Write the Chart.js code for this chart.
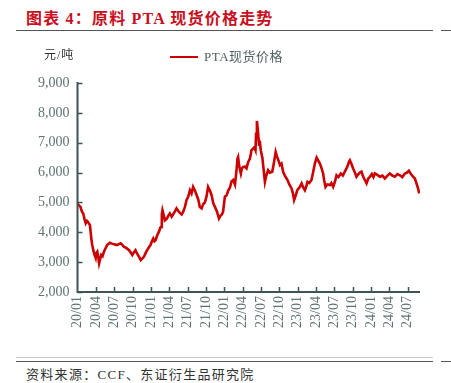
<!DOCTYPE html>
<html>
<head>
<meta charset="utf-8">
<script src="https://cdn.jsdelivr.net/npm/chart.js@4.4.1/dist/chart.umd.min.js"></script>
<style>
  body { margin: 0; background: #fff; }
  #wrap { position: relative; width: 451px; height: 383px; overflow: hidden; font-family: "Liberation Serif", "Noto Sans CJK SC", serif; }
  #title { position: absolute; left: 26px; top: 5px; font-size: 16px; font-weight: bold; color: #c8101e; white-space: nowrap; letter-spacing: 1.2px; }
  .rule { position: absolute; height: 0; }
  #unit { position: absolute; left: 44px; top: 45px; font-size: 12px; color: #333; letter-spacing: 1px; }
  #source { position: absolute; left: 26px; top: 364px; font-size: 13px; color: #333; white-space: nowrap; letter-spacing: 1.3px; }
  #legend { position: absolute; left: 170px; top: 46px; font-size: 13px; color: #4f5f5f; white-space: nowrap; letter-spacing: 0.5px; }
  #legend span.swatch { display: inline-block; width: 28px; border-top: 2.5px solid #cc0000; vertical-align: middle; margin-right: 6px; position: relative; top: -1px; }
  #chart { position: absolute; left: 0; top: 0; }
</style>
</head>
<body>
<div id="wrap">
  <div id="title">图表 4：原料 PTA 现货价格走势</div>
  <div class="rule" style="left:16px; top:30px; width:417px; border-top:1.5px solid #555;"></div>
  <div class="rule" style="left:441px; top:30px; width:10px; border-top:1.5px solid #555;"></div>
  <canvas id="chart" width="451" height="345"></canvas>
  <div id="unit">元/吨</div>
  <div id="legend"><span class="swatch"></span>PTA现货价格</div>
  <div class="rule" style="left:16px; top:357px; width:417px; border-top:1px solid #ccc;"></div>
  <div class="rule" style="left:16px; top:361px; width:417px; border-top:1.5px solid #555;"></div>
  <div class="rule" style="left:441px; top:361px; width:10px; border-top:1.5px solid #555;"></div>
  <div id="source">资料来源：CCF、东证衍生品研究院</div>
</div>
<script>
// PTA spot price, yuan/ton
var dates = [
  '2020-01-02','2020-01-08','2020-01-16','2020-01-23','2020-01-30','2020-02-05','2020-02-11','2020-02-17','2020-02-21','2020-02-26',
  '2020-03-02','2020-03-09','2020-03-13','2020-03-19','2020-03-25','2020-03-31','2020-04-03','2020-04-08','2020-04-13','2020-04-17',
  '2020-04-22','2020-04-27','2020-05-04','2020-05-11','2020-05-18','2020-05-27','2020-06-10','2020-06-20','2020-06-30','2020-07-16',
  '2020-07-24','2020-08-03','2020-08-11','2020-08-19','2020-09-01','2020-09-14','2020-09-22','2020-09-30','2020-10-08','2020-10-16',
  '2020-10-23','2020-10-28','2020-11-05','2020-11-11','2020-11-18','2020-11-27','2020-12-05','2020-12-13','2020-12-22','2020-12-30',
  '2021-01-06','2021-01-13','2021-01-19','2021-01-25','2021-02-02','2021-02-10','2021-02-16','2021-02-20','2021-02-23','2021-02-26',
  '2021-03-05','2021-03-10','2021-03-19','2021-03-27','2021-04-04','2021-04-13','2021-04-20','2021-04-29','2021-05-07','2021-05-15',
  '2021-05-24','2021-06-02','2021-06-10','2021-06-18','2021-06-26','2021-07-04','2021-07-13','2021-07-21','2021-07-29','2021-08-07',
  '2021-08-16','2021-08-24','2021-09-01','2021-09-10','2021-09-18','2021-09-26','2021-10-04','2021-10-12','2021-10-21','2021-10-30',
  '2021-11-07','2021-11-15','2021-11-25','2021-12-05','2021-12-12','2021-12-20','2021-12-26','2022-01-04','2022-01-13','2022-01-21',
  '2022-01-30','2022-02-06','2022-02-14','2022-02-22','2022-03-01','2022-03-06','2022-03-09','2022-03-15','2022-03-23','2022-03-28',
  '2022-04-04','2022-04-12','2022-04-20','2022-04-28','2022-05-07','2022-05-15','2022-05-23','2022-05-29','2022-06-04','2022-06-07',
  '2022-06-11','2022-06-16','2022-06-21','2022-06-26','2022-06-30','2022-07-08','2022-07-16','2022-07-21','2022-07-28','2022-08-06',
  '2022-08-15','2022-08-27','2022-09-04','2022-09-13','2022-09-19','2022-09-27','2022-10-04','2022-10-12','2022-10-20','2022-10-29',
  '2022-11-11','2022-11-20','2022-12-01','2022-12-08','2022-12-14','2022-12-23','2022-12-30','2023-01-10','2023-01-21','2023-01-29',
  '2023-02-06','2023-02-13','2023-02-18','2023-02-26','2023-03-09','2023-03-17','2023-03-26','2023-04-04','2023-04-12','2023-04-20',
  '2023-04-28','2023-05-06','2023-05-11','2023-05-18','2023-05-27','2023-06-09','2023-06-16','2023-06-25','2023-07-04','2023-07-12',
  '2023-07-21','2023-08-03','2023-08-13','2023-08-27','2023-09-05','2023-09-12','2023-09-17','2023-09-24','2023-10-03','2023-10-12',
  '2023-10-20','2023-10-30','2023-11-06','2023-11-14','2023-11-23','2023-12-01','2023-12-09','2023-12-18','2023-12-26','2024-01-05',
  '2024-01-13','2024-01-20','2024-02-02','2024-02-14','2024-02-26','2024-03-09','2024-03-22','2024-04-03','2024-04-15','2024-04-28',
  '2024-05-10','2024-05-23','2024-06-04','2024-06-17','2024-06-27','2024-07-07','2024-07-17','2024-07-28','2024-08-06','2024-08-14',
  '2024-08-21','2024-08-28'
];
var prices = [
  4950,4900,4850,4700,4630,4450,4300,4380,4350,4300,
  4240,3800,3600,3400,3250,3140,3300,3350,3150,2960,
  3100,3240,3200,3350,3450,3570,3650,3620,3600,3570,
  3600,3630,3580,3520,3470,3400,3320,3240,3330,3400,
  3300,3240,3150,3070,3120,3180,3300,3400,3500,3570,
  3700,3790,3700,3740,3900,4020,4150,4180,4600,4740,
  4550,4400,4450,4550,4630,4520,4600,4700,4800,4720,
  4650,4600,4700,4850,5080,5190,5410,5300,5520,5400,
  5240,5100,4850,4800,4950,5000,5200,5520,5400,5240,
  4970,4850,4700,4460,4550,4600,4690,5190,5240,5400,
  5500,5700,5750,5600,6080,6470,6520,6200,5970,6140,
  6190,6200,6140,6350,6470,6750,6800,6850,6750,7300,
  7730,7400,6970,7000,6750,6500,6000,5690,5900,6080,
  6000,6030,6300,6690,6550,6400,6250,6300,6030,5900,
  5750,5600,5470,5300,5080,5250,5410,5500,5640,5500,
  5410,5550,5690,5650,5750,6000,6300,6500,6400,6300,
  6150,5970,5750,5520,5600,5580,5650,5520,5700,5910,
  5850,5970,5900,6080,6200,6350,6410,6300,6140,6000,
  5860,5950,6000,6030,5850,5750,5640,5800,5860,5950,
  5850,5970,5920,5860,5900,5800,5900,5970,5900,5860,
  5950,5910,5850,5970,6000,6060,5950,5860,5800,5640,
  5500,5300
];
var yTicks = [2000, 3000, 4000, 5000, 6000, 7000, 8000, 9000];
var xTicks = [0, 3, 6, 9, 12, 15, 18, 21, 24, 27, 30, 33, 36, 39, 42, 45, 48, 51, 54]; // quarters from 20/01
var seriesName = 'PTA现货价格';

// months since 2020-01
function monthIndex(s) {
  var p = s.split('-').map(Number);
  var dim = new Date(p[0], p[1], 0).getDate();
  return (p[0] - 2020) * 12 + (p[1] - 1) + (p[2] - 1) / dim;
}
function monthLabel(v) {
  v = Math.round(v);
  var y = 20 + Math.floor(v / 12), m = v % 12 + 1;
  return y + '/' + (m < 10 ? '0' + m : m);
}

var points = dates.map(function (d, i) { return { x: monthIndex(d), y: prices[i] }; });
var axisColor = '#3d5555';
var tickFont = { family: '"Liberation Serif", serif', size: 14 };

// tick marks point into the plot, like the original
var innerTicks = {
  id: 'innerTicks',
  afterDraw: function (chart) {
    var ctx = chart.ctx, xs = chart.scales.x, ys = chart.scales.y;
    ctx.save();
    ctx.strokeStyle = axisColor;
    ctx.lineWidth = 1.5;
    ctx.beginPath();
    ys.ticks.forEach(function (t) {
      var py = Math.round(ys.getPixelForValue(t.value)) + 0.5;
      ctx.moveTo(xs.left, py); ctx.lineTo(xs.left + 5, py);
    });
    xs.ticks.forEach(function (t) {
      if (t.value === 0) return;
      var px = Math.round(xs.getPixelForValue(t.value)) + 0.5;
      ctx.moveTo(px, ys.bottom); ctx.lineTo(px, ys.bottom - 5);
    });
    ctx.stroke();
    ctx.lineWidth = 2;
    ctx.beginPath();
    ctx.moveTo(xs.left, ys.top - 1); ctx.lineTo(xs.left, ys.bottom);
    ctx.lineTo(xs.right, ys.bottom);
    ctx.stroke();
    ctx.restore();
  }
};

new Chart(document.getElementById('chart'), {
  type: 'line',
  data: {
    datasets: [{
      label: seriesName,
      data: points,
      borderColor: '#cc0000',
      borderWidth: 2.6,
      pointRadius: 0,
      tension: 0,
      fill: false
    }]
  },
  options: {
    responsive: false,
    animation: false,
    layout: { padding: { left: 0, right: 31, top: 83, bottom: 0 } },
    plugins: { legend: { display: false }, tooltip: { enabled: false } },
    scales: {
      x: {
        type: 'linear',
        min: 0,
        max: 56,
        afterBuildTicks: function (s) { s.ticks = xTicks.map(function (v) { return { value: v }; }); },
        afterFit: function (s) { s.height = 53; },
        ticks: {
          autoSkip: false,
          minRotation: 90,
          maxRotation: 90,
          padding: 4,
          color: '#5f7373',
          font: tickFont,
          callback: function (v) { return monthLabel(v); }
        },
        grid: { display: false, drawTicks: false },
        border: { display: false }
      },
      y: {
        min: 2000,
        max: 9000,
        afterBuildTicks: function (s) { s.ticks = yTicks.map(function (v) { return { value: v }; }); },
        afterFit: function (s) { s.width = 77.5; },
        ticks: {
          padding: 8,
          color: '#5f7373',
          font: tickFont,
          callback: function (v) { return v.toLocaleString('en-US'); }
        },
        grid: { display: false, drawTicks: false },
        border: { display: false }
      }
    }
  },
  plugins: [innerTicks]
});
</script>
</body>
</html>
